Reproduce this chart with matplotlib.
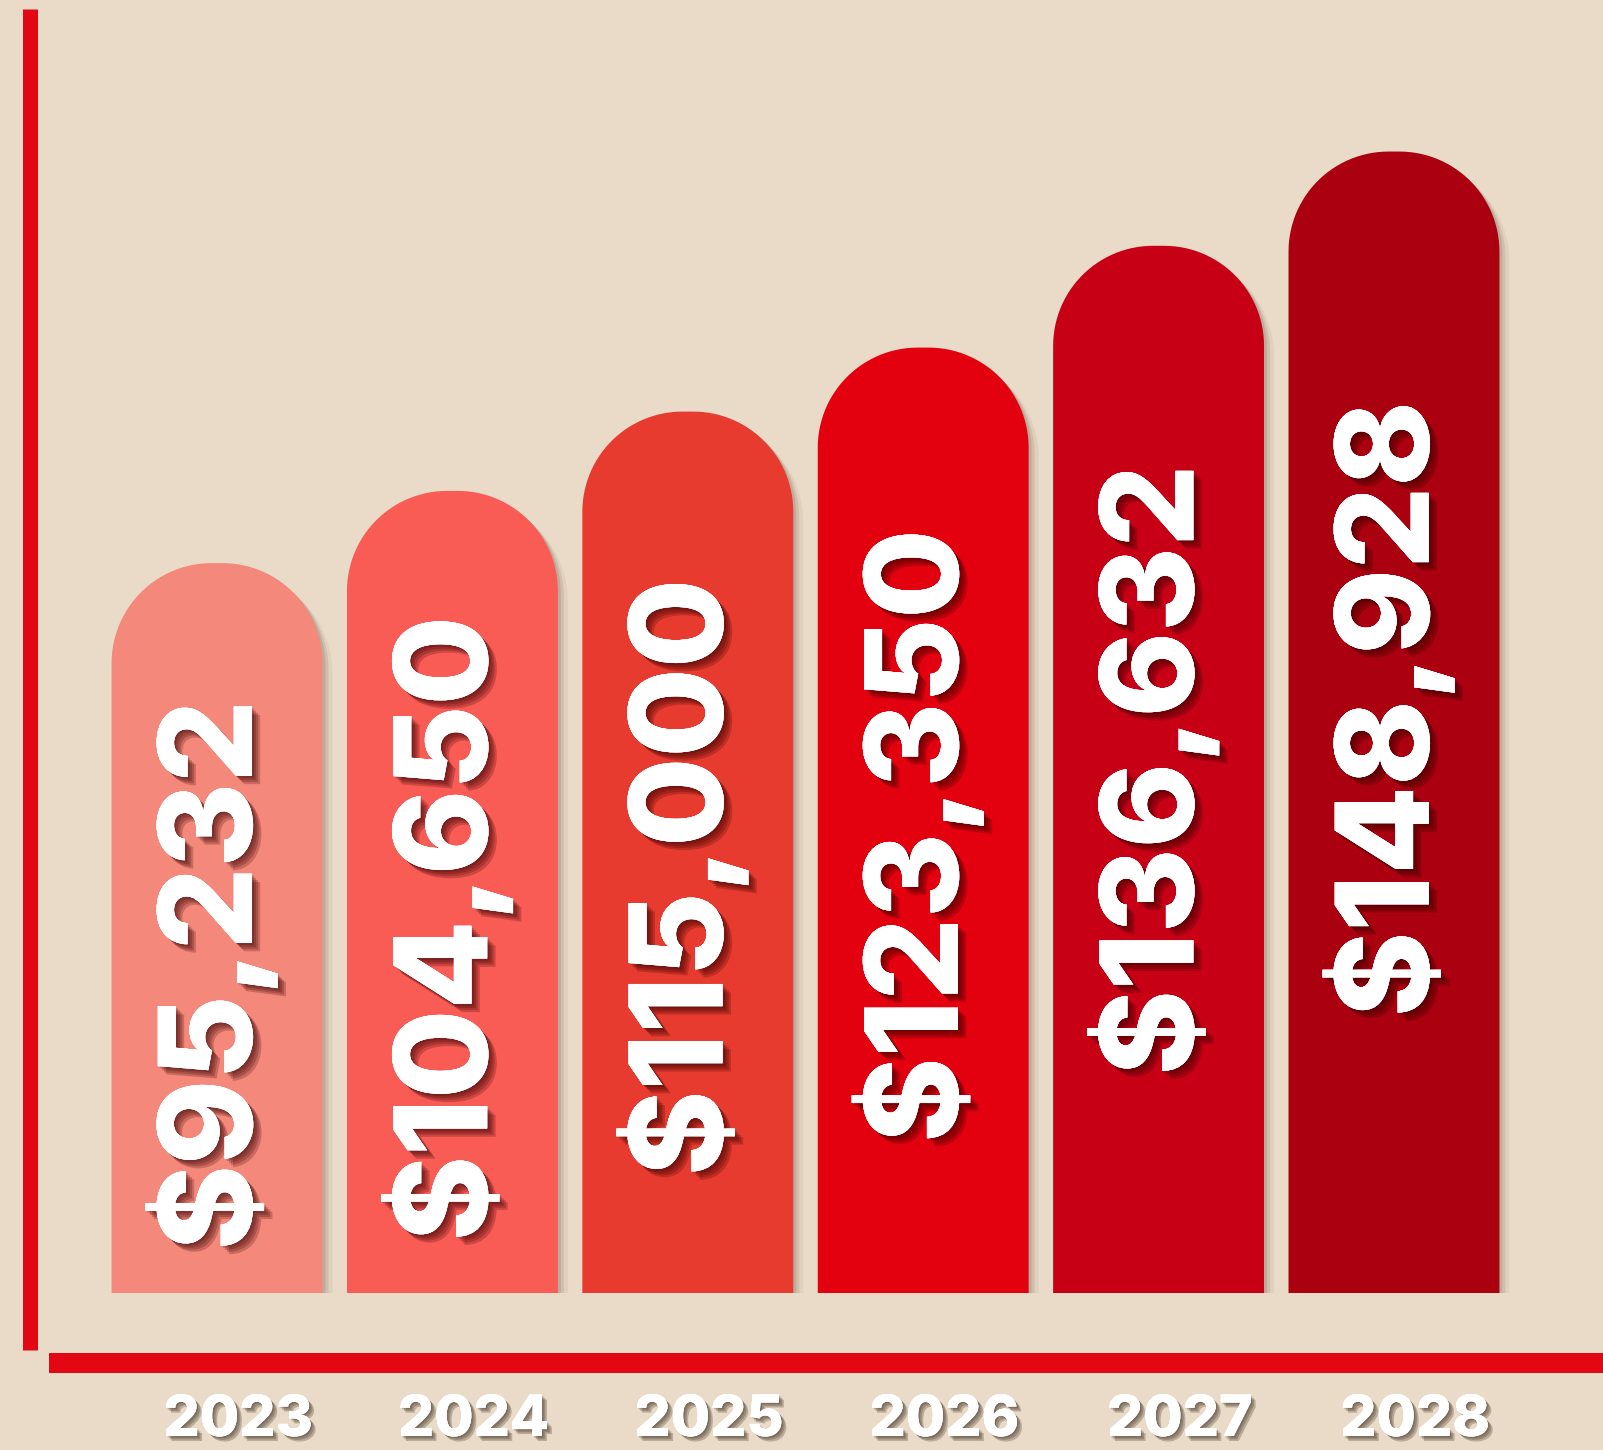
import numpy as np
import matplotlib
matplotlib.use("Agg")
import matplotlib.pyplot as plt
import matplotlib.patheffects as pe
from matplotlib.patches import Polygon
from matplotlib.lines import Line2D
from matplotlib.transforms import blended_transform_factory

# DADOS
years = ["2023", "2024", "2025", "2026", "2027", "2028"]
values = [95232, 104650, 115000, 123350, 136632, 148928]
value_labels = ["$95,232", "$104,650", "$115,000", "$123,350", "$136,632", "$148,928"]
bar_colors = ["#F4887A", "#F95B55", "#E63B2E", "#E3000F", "#C70016", "#AA000F"]

BG = "#EADBC8"
AXIS_RED = "#E30613"
FONT = ["Inter", "DejaVu Sans"]

W, H, DPI = 1603, 1450, 100
fig = plt.figure(figsize=(W / DPI, H / DPI), dpi=DPI, facecolor=BG)
ax = fig.add_axes([0, 157 / H, 1, 1 - 157 / H])
ax.set_facecolor(BG)
ax.set_xlim(-0.922, 5.888)
ax.set_ylim(0, 168700)
ax.axis("off")

# escala pixels por unidade
bar_w = 0.896
sx = (ax.transData.transform((1, 0)) - ax.transData.transform((0, 0)))[0]
sy = (ax.transData.transform((0, 1000)) - ax.transData.transform((0, 0)))[1] / 1000
r_px = 100.0
rx, ry = r_px / sx, r_px / sy


def rounded_top(xc, h, dx=0.0, dy=0.0):
    left, right = xc - bar_w / 2 + dx, xc + bar_w / 2 + dx
    t = np.linspace(0, np.pi / 2, 30)
    cr = np.column_stack([right - rx + rx * np.cos(t), h - ry + ry * np.sin(t)])
    cl = np.column_stack([left + rx - rx * np.cos(t[::-1]), h - ry + ry * np.sin(t[::-1])])
    pts = np.vstack([[[left, dy], [right, dy]], cr + [0, dy], cl + [0, dy]])
    return pts


def soft_shadow(color, alpha, n=4, step=1.5):
    effects = []
    for k in range(n, 0, -1):
        o = k * step
        effects.append(pe.withSimplePatchShadow(offset=(o, -o), shadow_rgbFace=color,
                                                alpha=alpha / n))
    effects.append(pe.Normal())
    return effects


for i, (v, c) in enumerate(zip(values, bar_colors)):
    # sombra
    for off, a in [(10, 0.08), (6, 0.14), (3, 0.18)]:
        ax.add_patch(Polygon(rounded_top(i, v, off / sx, -off / sy), closed=True,
                             facecolor="#6b5a48", edgecolor="none", alpha=a, zorder=1))
    ax.add_patch(Polygon(rounded_top(i, v), closed=True, facecolor=c,
                         edgecolor="none", zorder=2))

    # centro do rótulo sobe com o valor
    ax.text(i - 0.02, 0.647 * v - 20200, value_labels[i], rotation=90, ha="center", va="center",
            fontsize=93, fontweight="heavy", color="white", family=FONT, zorder=3,
            path_effects=soft_shadow("#3a0000", 0.9))

# rótulos dos anos
trans = blended_transform_factory(ax.transData, ax.transAxes)
for i, y in enumerate(years):
    ax.text(i + 0.09, -(1421 - 1293) / 1293, y, transform=trans, ha="center", va="center",
            fontsize=41, fontweight="heavy", color="white", family=FONT, clip_on=False,
            path_effects=soft_shadow("#3a2a1a", 0.8, n=3, step=1.2))

# linhas dos eixos
fig.add_artist(Line2D([30.5 / W, 30.5 / W], [1 - 9 / H, 1 - 1350 / H], color=AXIS_RED,
                      linewidth=15 * 0.72, solid_capstyle="butt", transform=fig.transFigure))
fig.add_artist(Line2D([49 / W, 1.0], [1 - 1363 / H, 1 - 1363 / H], color=AXIS_RED,
                      linewidth=20 * 0.72, solid_capstyle="butt", transform=fig.transFigure))

fig.savefig("out.png", dpi=DPI, facecolor=BG)
